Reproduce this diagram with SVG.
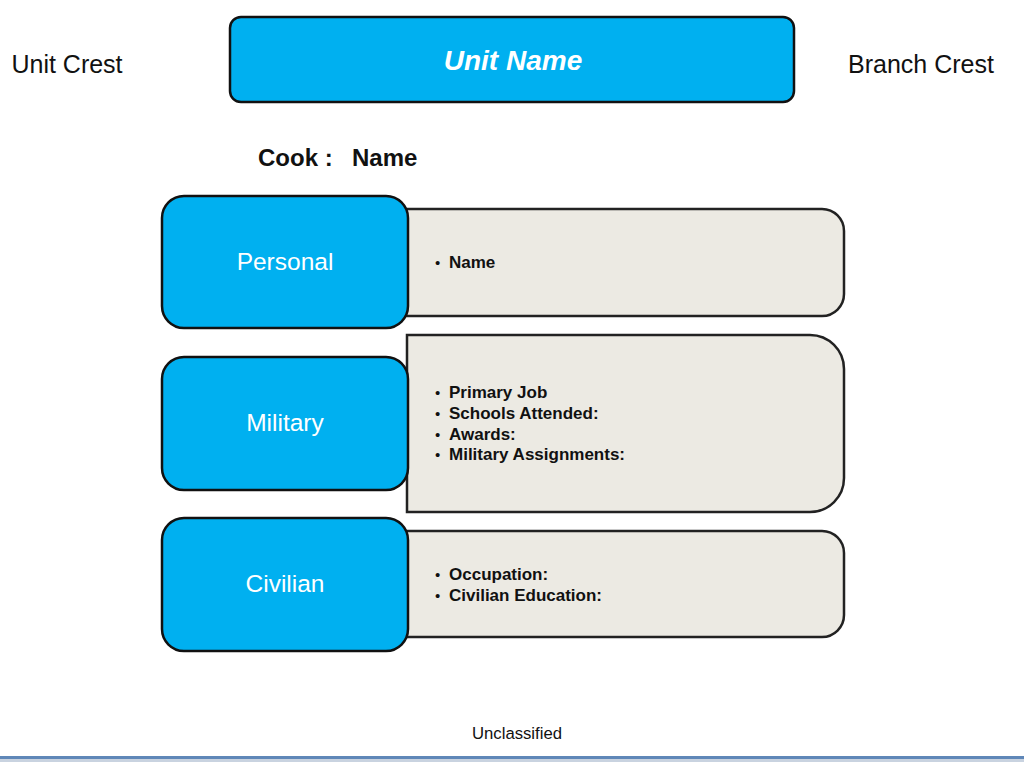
<svg xmlns="http://www.w3.org/2000/svg" width="1024" height="768" viewBox="0 0 1024 768">
<style>
.blue{fill:#00B0F0;stroke:#111;stroke-width:2.5}
.gray{fill:#ECEAE3;stroke:#222;stroke-width:2.5}
.lbl{font-family:"Liberation Sans",Arial,sans-serif;font-size:24.5px;fill:#fff;text-anchor:middle}
.item{font-family:"Liberation Sans",Arial,sans-serif;font-size:17px;font-weight:bold;fill:#111}
.dot{font-family:"Liberation Sans",Arial,sans-serif;font-size:15px;fill:#111}
.plain{font-family:"Liberation Sans",Arial,sans-serif;fill:#111}
</style>
<rect width="1024" height="768" fill="#fff"/>
<g id="header">
<rect x="230" y="17" width="564" height="85" rx="11" class="blue"/>
<text x="513" y="70" font-family="Liberation Sans,Arial,sans-serif" font-size="28" font-weight="bold" font-style="italic" fill="#fff" text-anchor="middle">Unit Name</text>
</g>
<text x="67" y="73" class="plain" font-size="25" text-anchor="middle">Unit Crest</text>
<text x="921" y="73" class="plain" font-size="25" text-anchor="middle">Branch Crest</text>
<text x="258" y="166" class="plain" font-size="24" font-weight="bold">Cook :</text>
<text x="352" y="166" class="plain" font-size="24" font-weight="bold">Name</text>
<g id="personal">
<path d="M380 209 H822 A22 22 0 0 1 844 231 V294 A22 22 0 0 1 822 316 H380 Z" class="gray"/>
<rect x="162" y="196" width="246" height="132" rx="22" class="blue"/>
<text x="285" y="270" class="lbl">Personal</text>
<text x="435" y="268" class="dot">•</text><text x="449" y="268" class="item">Name</text>
</g>
<g id="military">
<path d="M407 335 H810 A34 34 0 0 1 844 369 V478 A34 34 0 0 1 810 512 H407 Z" class="gray"/>
<rect x="162" y="357" width="246" height="133" rx="22" class="blue"/>
<text x="285" y="431" class="lbl">Military</text>
<text x="435" y="398" class="dot">•</text><text x="449" y="398" class="item">Primary Job</text>
<text x="435" y="419" class="dot">•</text><text x="449" y="419" class="item">Schools Attended:</text>
<text x="435" y="440" class="dot">•</text><text x="449" y="440" class="item">Awards:</text>
<text x="435" y="460" class="dot">•</text><text x="449" y="460" class="item">Military Assignments:</text>
</g>
<g id="civilian">
<path d="M380 531 H822 A22 22 0 0 1 844 553 V615 A22 22 0 0 1 822 637 H380 Z" class="gray"/>
<rect x="162" y="518" width="246" height="133" rx="22" class="blue"/>
<text x="285" y="592" class="lbl">Civilian</text>
<text x="435" y="580" class="dot">•</text><text x="449" y="580" class="item">Occupation:</text>
<text x="435" y="601" class="dot">•</text><text x="449" y="601" class="item">Civilian Education:</text>
</g>
<g id="connectors"></g>
<text x="517" y="739" class="plain" font-size="16.7" text-anchor="middle">Unclassified</text>
<rect x="0" y="758" width="1024" height="4" fill="#C9D3E0"/>
<rect x="0" y="756" width="1024" height="3" fill="#5F87B8"/>
</svg>
